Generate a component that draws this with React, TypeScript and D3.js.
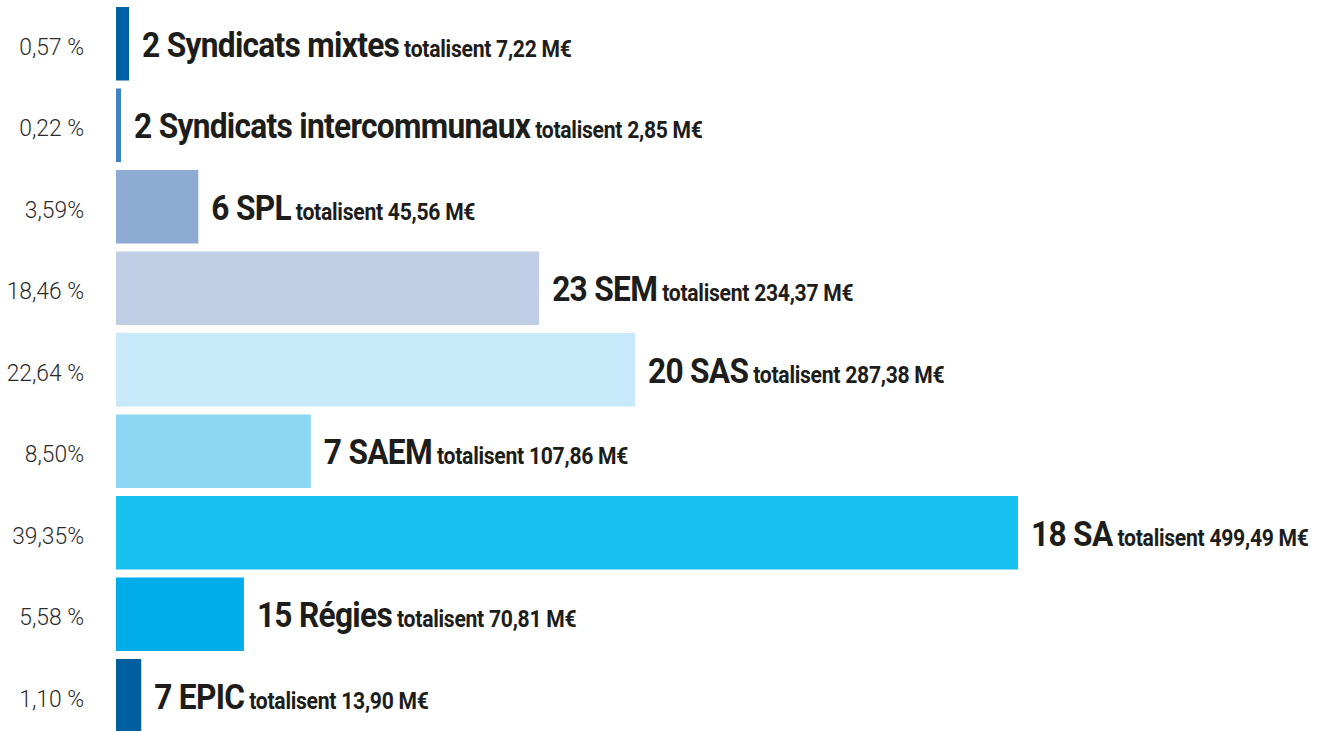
import React, { useRef, useEffect } from 'react';
import * as d3 from 'd3';

// Structures, share of the total (%) and amount
const names = ['2 Syndicats mixtes', '2 Syndicats intercommunaux', '6 SPL', '23 SEM', '20 SAS', '7 SAEM', '18 SA', '15 Régies', '7 EPIC'];
const shares = [0.57, 0.22, 3.59, 18.46, 22.64, 8.5, 39.35, 5.58, 1.1];
const shareLabels = ['0,57 %', '0,22 %', '3,59%', '18,46 %', '22,64 %', '8,50%', '39,35%', '5,58 %', '1,10 %'];
const amountLabels = ['totalisent 7,22 M€', 'totalisent 2,85 M€', 'totalisent 45,56 M€', 'totalisent 234,37 M€', 'totalisent 287,38 M€', 'totalisent 107,86 M€', 'totalisent 499,49 M€', 'totalisent 70,81 M€', 'totalisent 13,90 M€'];
const colors = ['#0061a4', '#3f82c1', '#8eabd3', '#c0cfe6', '#c7e9f9', '#8ed8f6', '#18c2f0', '#00adeb', '#005f9f'];

const width = 1319;
const height = 731;

const App: React.FC = () => {
  const ref = useRef<SVGSVGElement | null>(null);

  useEffect(() => {
    if (!ref.current) return;
    const svg = d3.select(ref.current);
    svg.selectAll('*').remove();

    const x = d3.scaleLinear().domain([0, 39.35]).range([116, 1018]);
    const y = d3.scaleBand<string>()
      .domain(names)
      .range([7, 732.5])
      .paddingInner(0.098)
      .paddingOuter(0);

    const font = 'Roboto, "Liberation Sans", sans-serif';
    const bigSqueeze = 0.88; // the original face is a narrow grotesque
    const smallSqueeze = 0.92;

    const rows = svg.selectAll('g.row')
      .data(names)
      .enter()
      .append('g')
      .attr('class', 'row');

    // bars
    rows.append('rect')
      .attr('x', x(0))
      .attr('y', d => y(d)!)
      .attr('width', (_, i) => x(shares[i]) - x(0))
      .attr('height', y.bandwidth())
      .attr('fill', (_, i) => colors[i]);

    // share on the left
    rows.append('text')
      .attr('transform', d => `translate(84,${y(d)! + y.bandwidth() / 2 + 11}) scale(0.95,1)`)
      .attr('text-anchor', 'end')
      .attr('font-family', font)
      .attr('font-weight', 300)
      .attr('font-size', 24)
      .attr('fill', '#2b2b2b')
      .text((_, i) => shareLabels[i]);

    // label right of bar: big name then small amount
    rows.each(function (d, i) {
      const g = d3.select(this);
      const x0 = x(shares[i]) + 13;
      const base = y(d)! + y.bandwidth() / 2 + 13;

      const big = g.append('text')
        .attr('transform', `translate(${x0},${base}) scale(${bigSqueeze},1)`)
        .attr('font-family', font)
        .attr('font-weight', 'bold')
        .attr('font-size', 36)
        .attr('letter-spacing', -0.8)
        .attr('fill', '#1d1d1b')
        .text(d);

      const w = (big.node() as SVGTextElement).getComputedTextLength() * bigSqueeze;

      g.append('text')
        .attr('transform', `translate(${x0 + w + 5},${base}) scale(${smallSqueeze},1)`)
        .attr('font-family', font)
        .attr('font-weight', 'bold')
        .attr('font-size', 23)
        .attr('letter-spacing', -0.3)
        .attr('fill', '#1d1d1b')
        .text(amountLabels[i]);
    });
  }, []);

  return (
    <svg
      ref={ref}
      width={width}
      height={height}
      style={{ position: 'absolute', left: 0, top: 0, display: 'block', background: '#fff' }}
    />
  );
};

export default App;
